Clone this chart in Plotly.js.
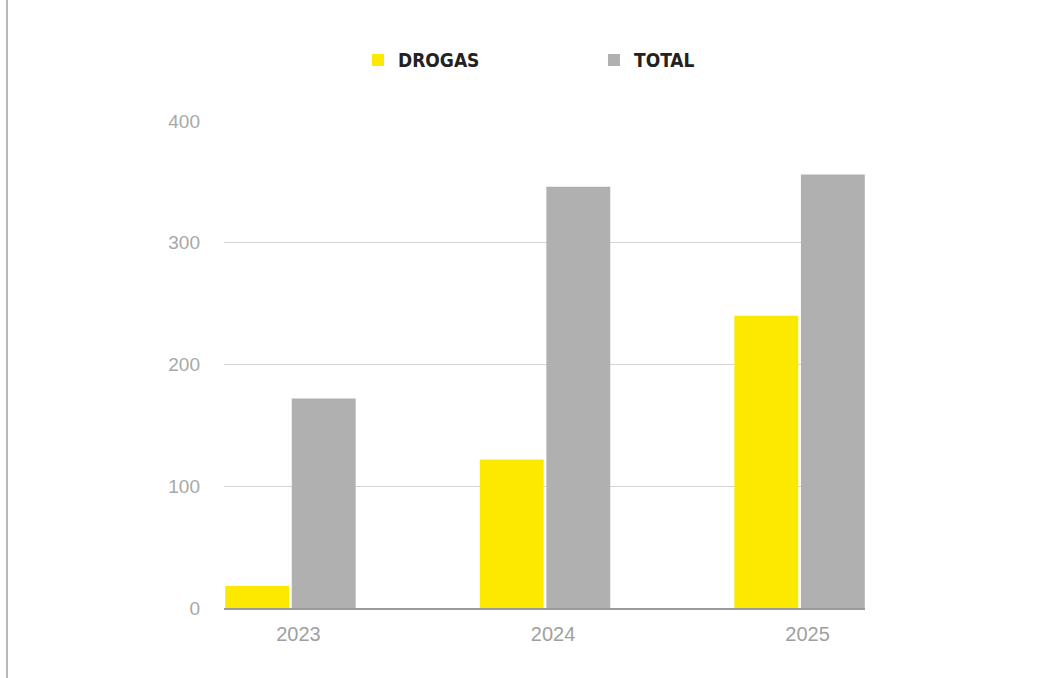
<!DOCTYPE html>
<html>
<head>
<meta charset="utf-8">
<script src="https://cdn.plot.ly/plotly-3.0.1.min.js"></script>
<style>html,body{margin:0;padding:0;background:#fff;}#chart{width:1045px;height:678px;}</style>
</head>
<body>
<div id="chart"></div>
<script>
const years = ['2023', '2024', '2025'];
const drogas = [18, 122, 240];
const total = [172, 346, 356];
const yTicks = [0, 100, 200, 300, 400];

const data = [
  {type: 'bar', name: 'DROGAS', x: years, y: drogas, marker: {color: '#FDE800'}, hoverinfo: 'x+y'},
  {type: 'bar', name: 'TOTAL', x: years, y: total, marker: {color: '#B0B0B0'}, hoverinfo: 'x+y'}
];

const layout = {
  width: 1045, height: 678,
  margin: {l: 224, r: 180, t: 121, b: 70},
  paper_bgcolor: '#ffffff', plot_bgcolor: '#ffffff',
  barmode: 'group', bargap: 0.477, bargroupgap: 0.04,
  showlegend: true,
  legend: {
    orientation: 'h', x: 0.209, xanchor: 'left', y: 1.125, yanchor: 'middle',
    entrywidth: 191, entrywidthmode: 'pixels',
    font: {family: 'DejaVu Sans Condensed, Liberation Sans Narrow, sans-serif', size: 19, color: '#222222', weight: 'bold'},
    bgcolor: 'rgba(0,0,0,0)', traceorder: 'normal'
  },
  xaxis: {
    type: 'category', range: [-0.261, 2.257],
    showgrid: false, zeroline: false,
    showline: true, linecolor: '#9a9a9a', linewidth: 2,
    ticks: '', ticklabelshift: 8, ticklabelstandoff: 7,
    tickfont: {family: 'Liberation Sans, Arial, sans-serif', size: 20, color: '#a0a0a0'}
  },
  yaxis: {
    range: [0, 400], tickvals: yTicks, ticktext: yTicks.map(String),
    showgrid: true, gridcolor: '#d4d4d4', gridwidth: 1,
    zeroline: false, showline: false, ticks: '', ticklabelstandoff: 23,
    tickfont: {family: 'Liberation Sans, Arial, sans-serif', size: 19, color: '#a8a8a8'}
  },
  shapes: [
    {type: 'line', xref: 'paper', yref: 'paper', x0: -0.3385, x1: -0.3385, y0: -0.2, y1: 1.3,
     line: {color: '#b8b8b8', width: 2}}
  ]
};

Plotly.newPlot('chart', data, layout, {displayModeBar: false, staticPlot: true});
</script>
</body>
</html>
